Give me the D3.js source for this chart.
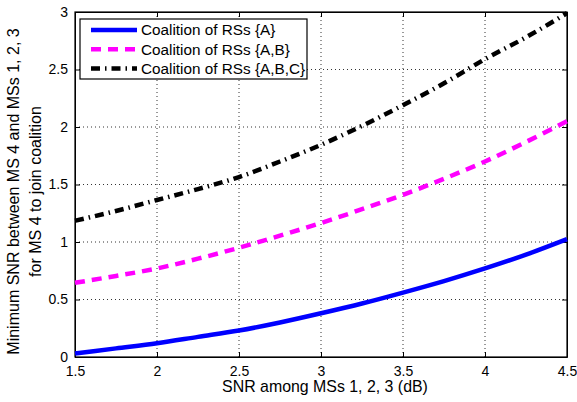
<!DOCTYPE html>
<html><head><meta charset="utf-8">
<script src="https://cdn.jsdelivr.net/npm/d3@7"></script>
<style>body{margin:0;background:#fff}svg{display:block;font-family:"Liberation Sans",Arial,sans-serif}</style>
</head><body><svg id="c" width="577" height="402"></svg>
<script>
const snr = [1.5,1.75,2,2.25,2.5,2.75,3,3.25,3.5,3.75,4,4.25,4.5];
const coalA = [0.03,0.075,0.12,0.175,0.23,0.30,0.38,0.465,0.56,0.66,0.77,0.89,1.025];
const coalAB = [0.645,0.705,0.77,0.855,0.95,1.055,1.165,1.285,1.41,1.55,1.70,1.87,2.05];
const coalABC = [1.185,1.27,1.365,1.46,1.565,1.70,1.845,2.01,2.19,2.38,2.59,2.78,2.99];
const xTicks = [1.5,2,2.5,3,3.5,4,4.5];
const yTicks = [0,0.5,1,1.5,2,2.5,3];
const seriesNames = ["Coalition of RSs {A}","Coalition of RSs {A,B}","Coalition of RSs {A,B,C}"];

const L=75,R=567,T=12,B=357;
const svg=d3.select("#c");
const x=d3.scaleLinear().domain([1.5,4.5]).range([L,R]);
const y=d3.scaleLinear().domain([0,3]).range([B,T]);

// grid
const g=svg.append("g");
g.selectAll(".gx").data(xTicks.slice(1,-1)).enter().append("line")
 .attr("x1",d=>x(d)).attr("x2",d=>x(d)).attr("y1",T).attr("y2",B)
 .attr("stroke","#333").attr("stroke-width",1).attr("stroke-dasharray","1,3");
g.selectAll(".gy").data(yTicks.slice(1,-1)).enter().append("line")
 .attr("y1",d=>y(d)).attr("y2",d=>y(d)).attr("x1",L).attr("x2",R)
 .attr("stroke","#333").attr("stroke-width",1).attr("stroke-dasharray","1,3");

// axes
const ax=d3.axisBottom(x).tickValues(xTicks).tickFormat(d3.format("")).tickSizeInner(-5).tickSizeOuter(0).tickPadding(9);
const ay=d3.axisLeft(y).tickValues(yTicks).tickFormat(d3.format("")).tickSizeInner(-5).tickSizeOuter(0).tickPadding(7);
const ax2=d3.axisTop(x).tickValues(xTicks).tickFormat("").tickSizeInner(-5).tickSizeOuter(0);
const ay2=d3.axisRight(y).tickValues(yTicks).tickFormat("").tickSizeInner(-5).tickSizeOuter(0);
function style(sel){sel.selectAll("path,line").attr("stroke","#000");sel.selectAll("text").attr("font-size",14).attr("fill","#000").attr("font-family","Liberation Sans, Arial, sans-serif");}
svg.append("g").attr("transform",`translate(0,${B})`).call(ax).call(style);
svg.append("g").attr("transform",`translate(${L},0)`).call(ay).call(style);
svg.append("g").attr("transform",`translate(0,${T})`).call(ax2).call(style);
svg.append("g").attr("transform",`translate(${R},0)`).call(ay2).call(style);
svg.append("rect").attr("x",L).attr("y",T).attr("width",R-L).attr("height",B-T).attr("fill","none").attr("stroke","#000").attr("stroke-width",1.2);

const line=d3.line().x(d=>x(d[0])).y(d=>y(d[1])).curve(d3.curveMonotoneX);
const defs=[
 {vals:coalA,color:"#0000ff",dash:null},
 {vals:coalAB,color:"#ff00ff",dash:"10,7"},
 {vals:coalABC,color:"#000",dash:"9,5,1.5,5"}
];
defs.forEach(s=>{
 svg.append("path").datum(snr.map((v,i)=>[v,s.vals[i]])).attr("d",line)
  .attr("fill","none").attr("stroke",s.color).attr("stroke-width",4.5)
  .attr("stroke-dasharray",s.dash);
});

// legend
const lg=svg.append("g");
lg.append("rect").attr("x",80).attr("y",19).attr("width",227).attr("height",60).attr("fill","#fff").attr("stroke","#000").attr("stroke-width",1.2);
defs.forEach((s,i)=>{
 const yy=30+i*19.2;
 lg.append("line").attr("x1",91).attr("x2",137).attr("y1",yy).attr("y2",yy)
  .attr("stroke",s.color).attr("stroke-width",4.5).attr("stroke-dasharray",s.dash);
 lg.append("text").attr("x",141).attr("y",yy+5.4).attr("font-size",15.3).text(seriesNames[i]);
});

// labels
svg.append("text").attr("x",(L+R)/2+4).attr("y",392).attr("text-anchor","middle").attr("font-size",15.9).text("SNR among MSs 1, 2, 3 (dB)");
svg.append("text").attr("transform","translate(19,191.5) rotate(-90)").attr("text-anchor","middle").attr("font-size",16).text("Minimum SNR between MS 4 and MSs 1, 2, 3");
svg.append("text").attr("transform","translate(41,191.5) rotate(-90)").attr("text-anchor","middle").attr("font-size",16).text("for MS 4 to join coalition");
</script></body></html>
